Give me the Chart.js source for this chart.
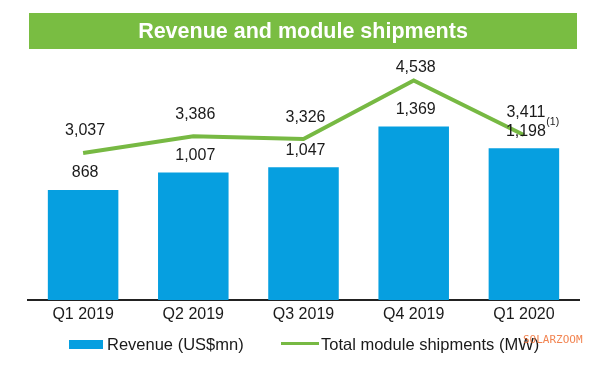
<!DOCTYPE html>
<html>
<head>
<meta charset="utf-8">
<script src="https://cdn.jsdelivr.net/npm/chart.js@4/dist/chart.umd.min.js"></script>
<style>
  body { margin: 0; background: #fff; }
  canvas { display: block; }
</style>
</head>
<body>
<canvas id="chartMain" width="600" height="366"></canvas>
<script>
// data
var quarters = ['Q1 2019', 'Q2 2019', 'Q3 2019', 'Q4 2019', 'Q1 2020'];
var revenue = [868, 1007, 1047, 1369, 1198];          // US$mn
var shipments = [3037, 3386, 3326, 4538, 3411];       // MW
var shipmentNotes = ['', '', '', '', '(1)'];

var titulo = 'Revenue and module shipments';
var corBarra = '#069fe0';
var corLinha = '#77b943';
var corBanner = '#79bd42';
var fonte = '"Liberation Sans", Arial, sans-serif';

// label offsets above each point of the line (the peak label sits closer)
var offLinha = [22, 22, 21, 13, 22];

var pluginDesenho = {
  id: 'desenho',
  beforeDraw: function(chart) {
    var ctx = chart.ctx;
    ctx.save();
    ctx.fillStyle = corBanner;
    ctx.fillRect(29, 13, 548, 36);
    ctx.fillStyle = '#fff';
    ctx.font = 'bold 21.5px ' + fonte;
    ctx.textAlign = 'center';
    ctx.textBaseline = 'middle';
    ctx.fillText(titulo, 303, 32);
    ctx.restore();
  },
  afterDatasetsDraw: function(chart) {
    var ctx = chart.ctx;
    ctx.save();
    ctx.fillStyle = '#1a1a1a';
    ctx.textAlign = 'center';
    ctx.textBaseline = 'middle';

    // revenue labels
    ctx.font = '16px ' + fonte;
    chart.getDatasetMeta(1).data.forEach(function(bar, i) {
      ctx.fillText(revenue[i].toLocaleString('en-US'), bar.x + 2, bar.y - 17);
    });

    // shipment labels
    chart.getDatasetMeta(0).data.forEach(function(pt, i) {
      var txt = shipments[i].toLocaleString('en-US');
      ctx.font = '16px ' + fonte;
      ctx.textAlign = 'center';
      ctx.fillText(txt, pt.x + 2, pt.y - offLinha[i]);
      if (shipmentNotes[i]) {
        var w = ctx.measureText(txt).width;
        ctx.font = '10.5px ' + fonte;
        ctx.textAlign = 'left';
        ctx.fillText(shipmentNotes[i], pt.x + 2 + w / 2 + 1, pt.y - offLinha[i] + 9);
      }
    });
    ctx.restore();
  },
  afterDraw: function(chart) {
    var ctx = chart.ctx;
    ctx.save();
    ctx.font = '16.5px ' + fonte;
    ctx.fillStyle = '#1a1a1a';
    ctx.textBaseline = 'middle';
    ctx.textAlign = 'left';

    ctx.fillStyle = corBarra;
    ctx.fillRect(69, 340, 34, 9);
    ctx.fillStyle = '#1a1a1a';
    ctx.fillText(chart.data.datasets[1].label, 107, 345);

    ctx.strokeStyle = corLinha;
    ctx.lineWidth = 3;
    ctx.beginPath();
    ctx.moveTo(281, 343.5);
    ctx.lineTo(319, 343.5);
    ctx.stroke();
    ctx.fillText(chart.data.datasets[0].label, 321, 345);

    // watermark
    ctx.font = '11px "DejaVu Sans Mono", monospace';
    ctx.fillStyle = 'rgba(240, 110, 50, 0.85)';
    ctx.fillText('SOLARZOOM', 523, 340);
    ctx.restore();
  }
};

var graficoPrincipal = new Chart(document.getElementById('chartMain'), {
  type: 'bar',
  data: {
    labels: quarters,
    datasets: [
      {
        type: 'line',
        label: 'Total module shipments (MW)',
        data: shipments,
        yAxisID: 'y1',
        borderColor: corLinha,
        borderWidth: 4,
        pointRadius: 0,
        tension: 0,
        fill: false,
        order: 0
      },
      {
        type: 'bar',
        label: 'Revenue (US$mn)',
        data: revenue,
        yAxisID: 'y',
        backgroundColor: corBarra,
        categoryPercentage: 1,
        barPercentage: 0.64,
        order: 1
      }
    ]
  },
  options: {
    responsive: false,
    animation: false,
    layout: { padding: { left: 28, right: 21, top: 60, bottom: 36.8 } },
    plugins: {
      legend: { display: false },
      tooltip: { enabled: false }
    },
    scales: {
      x: {
        grid: { display: false, drawTicks: false },
        border: { display: true, color: '#222', width: 2 },
        ticks: { color: '#1a1a1a', padding: 5, font: { size: 16, family: fonte } }
      },
      y: { display: false, min: 0, max: 1894 },
      y1: { display: false, min: 0, max: 4960, position: 'right' }
    }
  },
  plugins: [pluginDesenho]
});
</script>
</body>
</html>
